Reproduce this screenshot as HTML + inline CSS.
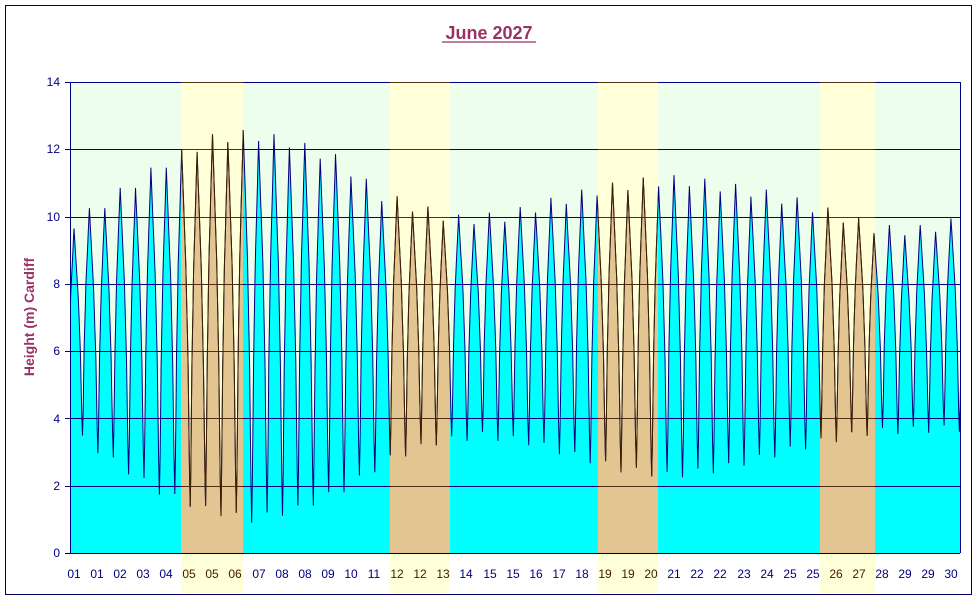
<!DOCTYPE html>
<html><head><meta charset="utf-8"><style>
html,body{margin:0;padding:0;background:#fff;}
svg{display:block;font-family:"Liberation Sans",Arial,sans-serif;}
</style></head><body>
<svg id="s" width="977" height="600" viewBox="0 0 977 600" xmlns="http://www.w3.org/2000/svg">
<defs>
<clipPath id="bands">
<rect x="181" y="0" width="62" height="600"/>
<rect x="390" y="0" width="60" height="600"/>
<rect x="598" y="0" width="60" height="600"/>
<rect x="820" y="0" width="55" height="600"/>
</clipPath>
<clipPath id="plot"><rect x="70" y="82" width="890" height="471"/></clipPath>
</defs>
<rect x="5.5" y="5.5" width="966" height="589" fill="#fff" stroke="#000060" stroke-width="1"/>
<g fill="#ffffd8">
<rect x="181" y="82" width="62" height="511"/>
<rect x="390" y="82" width="60" height="511"/>
<rect x="598" y="82" width="60" height="511"/>
<rect x="820" y="82" width="55" height="511"/>
</g>
<rect x="70" y="82" width="111" height="471" fill="#eefeec"/>
<rect x="243" y="82" width="147" height="471" fill="#eefeec"/>
<rect x="450" y="82" width="148" height="471" fill="#eefeec"/>
<rect x="658" y="82" width="162" height="471" fill="#eefeec"/>
<rect x="875" y="82" width="85" height="471" fill="#eefeec"/>
<g clip-path="url(#plot)">
<path id="fillA" fill="#00ffff"/>
<path id="fillB" fill="#e2c591" clip-path="url(#bands)"/>
</g>
<g id="grid" stroke="#000080" stroke-width="1"></g>
<g clip-path="url(#bands)"><g id="grid2" stroke="#503010" stroke-width="1"></g></g>
<g clip-path="url(#plot)">
<path id="lineA" fill="none" stroke="#000080" stroke-width="1"/>
<path id="lineB" fill="none" stroke="#402000" stroke-width="1" clip-path="url(#bands)"/>
</g>
<line x1="70.5" y1="82" x2="70.5" y2="553" stroke="#000080"/>
<line x1="960.5" y1="82" x2="960.5" y2="553" stroke="#000080"/>
<line x1="65" y1="553.5" x2="960" y2="553.5" stroke="#000000"/>
<g fill="#000080" font-size="12" text-anchor="end">
<text x="60" y="557">0</text><text x="60" y="490">2</text><text x="60" y="423">4</text><text x="60" y="355">6</text><text x="60" y="288">8</text><text x="60" y="221">10</text><text x="60" y="153">12</text><text x="60" y="86">14</text>
</g>
<text x="489" y="39" text-anchor="middle" font-size="18" font-weight="bold" fill="#993366">June 2027</text>
<line x1="442" y1="42" x2="536" y2="42" stroke="#993366" stroke-width="1.2"/>
<text transform="translate(34,317) rotate(-90)" text-anchor="middle" font-size="14" font-weight="bold" fill="#993366">Height (m) Cardiff</text>
<g id="xl" font-size="12" text-anchor="middle">
<text x="74" y="578" fill="#000080">01</text><text x="97" y="578" fill="#000080">01</text><text x="120" y="578" fill="#000080">02</text><text x="143" y="578" fill="#000080">03</text><text x="166" y="578" fill="#000080">04</text><text x="189" y="578" fill="#402000">05</text><text x="212" y="578" fill="#402000">05</text><text x="235" y="578" fill="#402000">06</text><text x="259" y="578" fill="#000080">07</text><text x="282" y="578" fill="#000080">08</text><text x="305" y="578" fill="#000080">08</text><text x="328" y="578" fill="#000080">09</text><text x="351" y="578" fill="#000080">10</text><text x="374" y="578" fill="#000080">11</text><text x="397" y="578" fill="#402000">12</text><text x="420" y="578" fill="#402000">12</text><text x="443" y="578" fill="#402000">13</text><text x="466" y="578" fill="#000080">14</text><text x="490" y="578" fill="#000080">15</text><text x="513" y="578" fill="#000080">15</text><text x="536" y="578" fill="#000080">16</text><text x="559" y="578" fill="#000080">17</text><text x="582" y="578" fill="#000080">18</text><text x="605" y="578" fill="#402000">19</text><text x="628" y="578" fill="#402000">19</text><text x="651" y="578" fill="#402000">20</text><text x="674" y="578" fill="#000080">21</text><text x="697" y="578" fill="#000080">22</text><text x="720" y="578" fill="#000080">22</text><text x="744" y="578" fill="#000080">23</text><text x="767" y="578" fill="#000080">24</text><text x="790" y="578" fill="#000080">25</text><text x="813" y="578" fill="#000080">25</text><text x="836" y="578" fill="#402000">26</text><text x="859" y="578" fill="#402000">27</text><text x="882" y="578" fill="#000080">28</text><text x="905" y="578" fill="#000080">29</text><text x="928" y="578" fill="#000080">29</text><text x="951" y="578" fill="#000080">30</text>
</g>
</svg>
<script>
(function(){
function Y(v){return 553-33.64*v;}
var H=[[60,9.6],[74,9.8],[120,10.7],[166,11.6],[212,12.3],[250,12.45],[290,12.2],[336,11.7],[382,10.6],[428,10.15],[460,9.9],[505,10],[550,10.4],[600,10.8],[640,11.0],[680,11.1],[720,10.9],[760,10.7],[800,10.4],[840,10.0],[880,9.6],[920,9.6],[952,9.8],[980,9.8]];
var L=[[60,3.5],[82,3.4],[113,2.75],[158,1.85],[205,1.3],[251,1.0],[297,1.3],[344,1.9],[390,2.8],[436,3.3],[482,3.5],[530,3.3],[575,2.9],[620,2.5],[670,2.3],[720,2.5],[770,2.9],[820,3.3],[870,3.6],[950,3.7],[980,3.7]];
function interp(a,x){for(var i=0;i<a.length-1;i++){if(x<=a[i+1][0]){var t=(x-a[i][0])/(a[i+1][0]-a[i][0]);return a[i][1]+t*(a[i+1][1]-a[i][1]);}}return a[a.length-1][1];}
var SH=[[0,0],[0.1,0.12],[0.25,0.4],[0.5,0.67],[1,1]];
var P=15.385,N=12,pts=[];
var ext=[];
for(var k=-1;k<62;k++){
 var xh=74+k*P;
 ext.push([xh,interp(H,xh)+(k%2?0.15:-0.15)]);
 var xl=xh+P/2+0.8;
 ext.push([xl,interp(L,xl)+(k%2?-0.1:0.1)]);
}
for(var i=0;i<ext.length-1;i++){
 var a=ext[i],b=ext[i+1];
 var hi=a[1]>b[1]?a:b, lo=a[1]>b[1]?b:a;
 for(var j=0;j<N;j++){
  var t=j/N, x=a[0]+(b[0]-a[0])*t;
  var s=(a===hi)?1-t:t;
  var v=lo[1]+(hi[1]-lo[1])*interp(SH,s);
  if(x>=60&&x<=980)pts.push([x,Y(v)]);
 }
}
var d="";pts.forEach(function(p,i){d+=(i?"L":"M")+p[0].toFixed(1)+","+p[1].toFixed(1);});
var f=d+"L980,553L60,553Z";
document.getElementById("lineA").setAttribute("d",d);
document.getElementById("lineB").setAttribute("d",d);
document.getElementById("fillA").setAttribute("d",f);
document.getElementById("fillB").setAttribute("d",f);
var g=document.getElementById("grid"),g2=document.getElementById("grid2"),ns="http://www.w3.org/2000/svg";
for(var v=0;v<=14;v+=2){
 var y=Math.round(Y(v))+0.5;
 var ln=document.createElementNS(ns,"line");
 ln.setAttribute("x1",65);ln.setAttribute("x2",v==0?70:960);ln.setAttribute("y1",y);ln.setAttribute("y2",y);
 g.appendChild(ln);
 if(v>0){var l2=document.createElementNS(ns,"line");l2.setAttribute("x1",70);l2.setAttribute("x2",960);l2.setAttribute("y1",y);l2.setAttribute("y2",y);g2.appendChild(l2);}
}
})();
</script>
</body></html>
